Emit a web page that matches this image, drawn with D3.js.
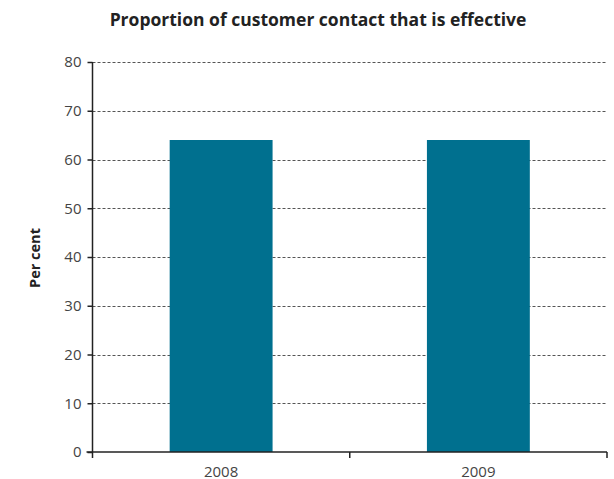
<!DOCTYPE html>
<html>
<head>
<meta charset="utf-8">
<script src="https://cdn.jsdelivr.net/npm/d3@7"></script>
<style>
  html, body { margin: 0; padding: 0; background: #fff; }
  svg { display: block; }
</style>
</head>
<body>
<svg id="chart" width="614" height="479"></svg>
<script>
// Effective customer contact, by year (per cent)
const years = ["2008", "2009"];
const effective = [64, 64];
const yTicks = [0, 10, 20, 30, 40, 50, 60, 70, 80];

const FONT = "'Open Sans', 'DejaVu Sans', sans-serif";
const svg = d3.select("#chart");
const margin = { left: 92.5, right: 7, top: 62, bottom: 27 };
const W = 614, H = 479;

const x = d3.scaleBand()
  .domain(years)
  .range([margin.left, W - margin.right])
  .paddingInner(0.6)
  .paddingOuter(0.3);

const y = d3.scaleLinear()
  .domain([0, 80])
  .range([H - margin.bottom, margin.top]);

// title
svg.append("text")
  .attr("x", 318)
  .attr("y", 26)
  .attr("text-anchor", "middle")
  .style("font-family", FONT)
  .style("font-size", "17.5px")
  .style("font-weight", "bold")
  .attr("fill", "#222")
  .text("Proportion of customer contact that is effective");

// dashed gridlines
svg.append("g")
  .selectAll("line")
  .data(yTicks.filter(d => d > 0))
  .join("line")
  .attr("x1", margin.left)
  .attr("x2", W - margin.right)
  .attr("y1", d => Math.round(y(d)) + 0.5)
  .attr("y2", d => Math.round(y(d)) + 0.5)
  .attr("stroke", "#555")
  .attr("stroke-width", 1)
  .attr("stroke-dasharray", "3,2");

// bars
svg.append("g")
  .selectAll("rect")
  .data(years.map((yr, i) => ({ yr, v: effective[i] })))
  .join("rect")
  .attr("x", d => x(d.yr))
  .attr("y", d => y(d.v))
  .attr("width", x.bandwidth())
  .attr("height", d => y(0) - y(d.v))
  .attr("fill", "#00708f");

// y axis
const yAxis = d3.axisLeft(y).tickValues(yTicks).tickSize(5).tickPadding(6);
const gy = svg.append("g")
  .attr("transform", `translate(${margin.left},0)`)
  .call(yAxis);
gy.select(".domain").attr("stroke", "#222").attr("stroke-width", 1.5)
  .attr("d", `M0,${y(0)}V${y(80)}`);
gy.selectAll(".tick line").attr("stroke", "#222").attr("stroke-width", 1.5);
gy.selectAll(".tick text")
  .style("font-family", FONT)
  .style("font-size", "15px")
  .attr("fill", "#444");

// x axis with ticks at band boundaries
const xAxisG = svg.append("g")
  .attr("transform", `translate(0,${y(0)})`);
xAxisG.append("line")
  .attr("x1", margin.left - 6)
  .attr("x2", W - margin.right)
  .attr("stroke", "#222")
  .attr("stroke-width", 1.5);
const step = (W - margin.right - margin.left) / years.length;
xAxisG.selectAll("line.tick")
  .data(d3.range(years.length + 1))
  .join("line")
  .attr("class", "tick")
  .attr("x1", i => margin.left + i * step)
  .attr("x2", i => margin.left + i * step)
  .attr("y1", 0)
  .attr("y2", 6)
  .attr("stroke", "#222")
  .attr("stroke-width", 1.5);
xAxisG.selectAll("text")
  .data(years)
  .join("text")
  .attr("x", d => x(d) + x.bandwidth() / 2)
  .attr("y", 24.5)
  .attr("text-anchor", "middle")
  .style("font-family", FONT)
  .style("font-size", "15px")
  .attr("fill", "#444")
  .text(d => d);

// y axis title
svg.append("text")
  .attr("transform", `translate(40,${258}) rotate(-90)`)
  .attr("text-anchor", "middle")
  .style("font-family", FONT)
  .style("font-size", "14.5px")
  .style("font-weight", "bold")
  .attr("fill", "#222")
  .text("Per cent");
</script>
</body>
</html>
